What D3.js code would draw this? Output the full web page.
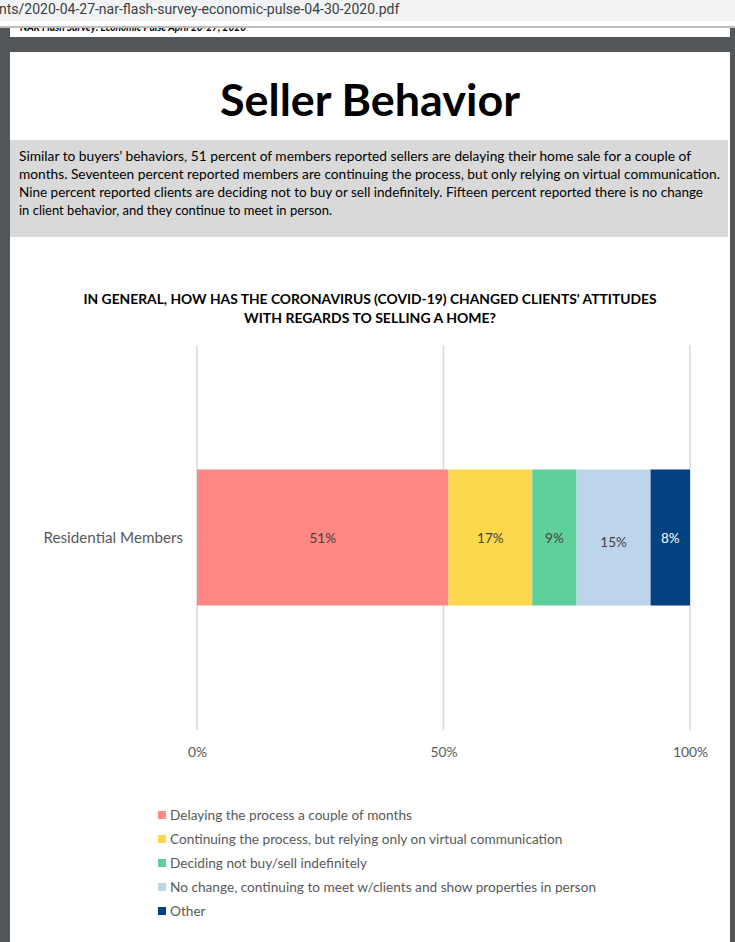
<!DOCTYPE html>
<html><head><meta charset="utf-8">
<script src="https://cdn.jsdelivr.net/npm/d3@7"></script>
<style>body{margin:0;background:#525659;}svg{display:block;}</style>
</head><body>
<svg id="c" width="735" height="942"></svg>
<script>
const categories = ["Residential Members"];
const seriesNames = [
  "Delaying the process a couple of months",
  "Continuing the process, but relying only on virtual communication",
  "Deciding not buy/sell indefinitely",
  "No change, continuing to meet w/clients and show properties in person",
  "Other"
];
const seriesValues = [51, 17, 9, 15, 8];
const seriesColors = ["#FF8885", "#FED84C", "#5FD09C", "#BDD5EA", "#024281"];
const labelColors = ["#404040", "#404040", "#404040", "#404040", "#ffffff"];
const tickValues = [0, 50, 100];
const titleText = "Seller Behavior";
const descLines = [
  "Similar to buyers’ behaviors, 51 percent of members reported sellers are delaying their home sale for a couple of",
  "months. Seventeen percent reported members are continuing the process, but only relying on virtual communication.",
  "Nine percent reported clients are deciding not to buy or sell indefinitely. Fifteen percent reported there is no change",
  "in client behavior, and they continue to meet in person."
];
const chartTitleLines = [
  "IN GENERAL, HOW HAS THE CORONAVIRUS (COVID-19) CHANGED CLIENTS' ATTITUDES",
  "WITH REGARDS TO SELLING A HOME?"
];

const svg = d3.select("#c");
const font = "Lato, 'Open Sans', sans-serif";

// viewer background
svg.append("rect").attr("width",735).attr("height",942).attr("fill","#525659");
// page 1 fragment
svg.append("rect").attr("x",10).attr("y",20).attr("width",720).attr("height",17).attr("fill","#fff");
svg.append("text").attr("x",20).attr("y",30.5).attr("font-family",font).attr("font-weight","bold")
  .attr("font-style","italic").attr("font-size",12).attr("fill","#000")
  .attr("textLength",226).attr("lengthAdjust","spacingAndGlyphs")
  .text("NAR Flash Survey: Economic Pulse April 20-27, 2020");
// toolbar
svg.append("rect").attr("x",0).attr("y",0).attr("width",735).attr("height",21).attr("fill","#f1f3f4");
svg.append("rect").attr("x",0).attr("y",21).attr("width",735).attr("height",5).attr("fill","#ffffff");
svg.append("rect").attr("x",0).attr("y",26).attr("width",735).attr("height",2).attr("fill","#bdbdbd");
svg.append("text").attr("x",-1).attr("y",14).attr("font-family","Roboto, sans-serif").attr("font-size",14)
  .attr("fill","#3c4043").text("nts/2020-04-27-nar-flash-survey-economic-pulse-04-30-2020.pdf");

// page 2
svg.append("rect").attr("x",10).attr("y",52).attr("width",720).attr("height",900).attr("fill","#fff");

svg.append("text").attr("x",370).attr("y",116).attr("text-anchor","middle")
  .attr("font-family",font).attr("font-weight","bold").attr("font-size",43)
  .attr("textLength",300).attr("lengthAdjust","spacingAndGlyphs").attr("fill","#000").text(titleText);

svg.append("rect").attr("x",10).attr("y",140).attr("width",718).attr("height",97).attr("fill","#d9d9d9");
const descLen = [672, 701, 684, null];
descLines.forEach((t,i)=>{
  const el = svg.append("text").attr("x",19).attr("y",161+i*18).attr("font-family",font)
    .attr("font-size",13).attr("fill","#000").text(t);
  if (descLen[i]) el.attr("textLength",descLen[i]).attr("lengthAdjust","spacingAndGlyphs");
});

const ctLen = [573, 252];
chartTitleLines.forEach((t,i)=>{
  svg.append("text").attr("x",370).attr("y",304+i*19).attr("text-anchor","middle")
    .attr("font-family",font).attr("font-weight","bold").attr("font-size",12.5)
    .attr("textLength",ctLen[i]).attr("lengthAdjust","spacingAndGlyphs")
    .attr("fill","#000").text(t);
});

// chart
const x = d3.scaleLinear().domain([0,100]).range([197,690]);
const y = d3.scaleBand().domain(categories).range([345,730]).paddingInner(0).paddingOuter(0.915);

const grid = svg.append("g");
grid.selectAll("line").data(tickValues).join("line")
  .attr("x1",d=>x(d)).attr("x2",d=>x(d)).attr("y1",345).attr("y2",730)
  .attr("stroke","#d9d9d9").attr("stroke-width",1.5);

const stackData = [];
let cum = 0;
seriesValues.forEach((v,i)=>{ stackData.push({i, v, x0:cum, x1:cum+v}); cum += v; });

categories.forEach(cat=>{
  const g = svg.append("g");
  g.selectAll("rect").data(stackData).join("rect")
    .attr("x",d=>x(d.x0)).attr("width",d=>x(d.x1)-x(d.x0))
    .attr("y",y(cat)).attr("height",y.bandwidth())
    .attr("fill",d=>seriesColors[d.i]);
  g.selectAll("text").data(stackData).join("text")
    .attr("x",d=>(x(d.x0)+x(d.x1))/2)
    .attr("y",d=>y(cat)+y.bandwidth()/2 + (d.i===3?9:5))
    .attr("text-anchor","middle").attr("font-family",font).attr("font-size",13.5)
    .attr("fill",d=>labelColors[d.i]).text(d=>d.v+"%");
  svg.append("text").attr("x",183).attr("y",y(cat)+y.bandwidth()/2+5)
    .attr("text-anchor","end").attr("font-family",font).attr("font-size",15.2)
    .attr("fill","#595959").text(cat);
});

const axis = d3.axisBottom(x).tickValues(tickValues).tickSize(0).tickPadding(0).tickFormat(d=>d+"%");
const ag = svg.append("g").attr("transform","translate(0,747)").call(axis);
ag.select(".domain").remove();
ag.selectAll("text").attr("font-family",font).attr("font-size",13.8).attr("fill","#595959");

// legend
const lg = svg.append("g");
seriesNames.forEach((n,i)=>{
  const yy = 815 + i*24;
  lg.append("rect").attr("x",158).attr("y",yy-4).attr("width",8).attr("height",8).attr("fill",seriesColors[i]);
  lg.append("text").attr("x",170).attr("y",yy+5).attr("font-family",font).attr("font-size",13.65)
    .attr("fill","#595959").text(n);
});
</script>
</body></html>
